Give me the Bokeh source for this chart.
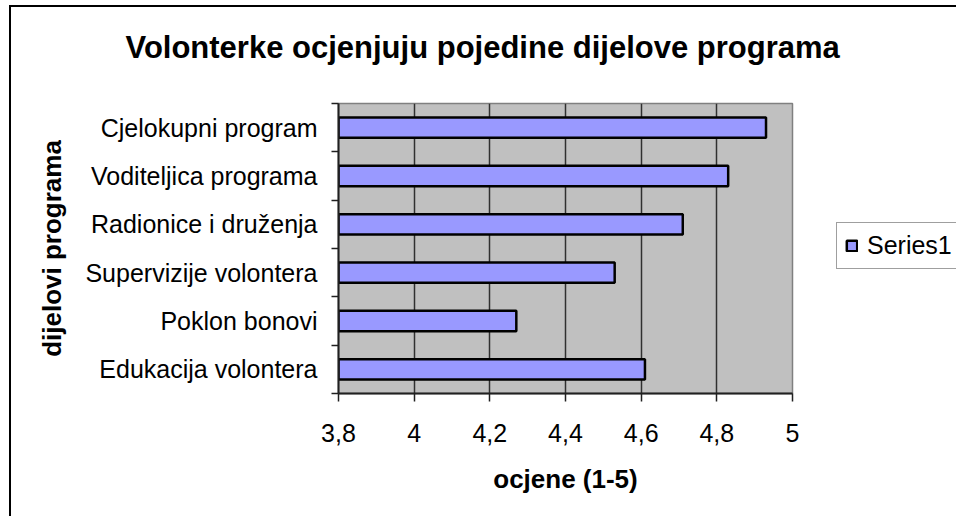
from bokeh.plotting import figure
from bokeh.models import FixedTicker, Legend, LegendItem, Range1d, Title
from bokeh.embed import file_html
from bokeh.resources import INLINE

# data (bottom to top, as Excel draws it)
categories = ["Edukacija volontera", "Poklon bonovi", "Supervizije volontera",
              "Radionice i druženja", "Voditeljica programa", "Cjelokupni program"]
values = [4.61, 4.27, 4.53, 4.71, 4.83, 4.93]
x_ticks = [3.8, 4.0, 4.2, 4.4, 4.6, 4.8, 5.0]
x_tick_labels = ["3,8", "4", "4,2", "4,4", "4,6", "4,8", "5"]
series_name = "Series1"
chart_title = "Volonterke ocjenjuju pojedine dijelove programa"

FONT = "Liberation Sans"

pos = [i + 0.5 for i in range(len(categories))]

p = figure(width=945, height=510, output_backend="svg", toolbar_location=None,
           title=None,
           x_range=Range1d(3.8, 5.0), y_range=Range1d(0, len(categories)),
           frame_width=454, frame_height=290,
           min_border_left=327, min_border_top=96, min_border_right=164, min_border_bottom=123)
# outer chart border (left and top edges are visible in the window)
p.styles = {"border-left": "2px solid black", "border-top": "2px solid black",
            "margin-left": "9px", "margin-top": "5px"}

p.background_fill_color = "#C0C0C0"
p.border_fill_color = "white"
p.outline_line_color = "#808080"
p.outline_line_width = 1.5

# spacer between the title and the plot area, then the real title
spacer = Title(text=" ", text_font_size="1px", standoff=36)
p.add_layout(spacer, "above")
main_title = Title(text=chart_title, text_font=FONT, text_font_size="31px",
                   text_font_style="bold", text_color="black",
                   align="left", offset=-213, standoff=0)
p.add_layout(main_title, "above")

r = p.hbar(y=pos, left=3.8, right=values, height=0.42, fill_color="#9999FF",
           line_color="black", line_width=2.5)

# x axis
xa = p.xaxis[0]
xa.ticker = FixedTicker(ticks=x_ticks)
xa.major_label_overrides = {t: l for t, l in zip(x_ticks, x_tick_labels)}
xa.axis_label = "ocjene (1-5)"
xa.axis_label_text_font = FONT
xa.axis_label_text_font_size = "26px"
xa.axis_label_text_font_style = "bold"
xa.axis_label_text_color = "black"
xa.axis_label_standoff = 19
xa.major_label_text_font = FONT
xa.major_label_text_font_size = "25px"
xa.major_label_text_color = "black"
xa.major_label_standoff = 22
xa.major_tick_out = 8
xa.major_tick_in = 0
xa.minor_tick_out = 0
xa.axis_line_color = "#202020"
xa.axis_line_width = 2
xa.major_tick_line_color = "#202020"
xa.major_tick_line_width = 1.5

# y axis
ya = p.yaxis[0]
ya.ticker = FixedTicker(ticks=pos, minor_ticks=list(range(len(categories) + 1)))
ya.major_label_overrides = {t: c for t, c in zip(pos, categories)}
ya.axis_label = "dijelovi programa"
ya.axis_label_text_font = FONT
ya.axis_label_text_font_size = "26px"
ya.axis_label_text_font_style = "bold"
ya.axis_label_text_color = "black"
ya.axis_label_standoff = 15
ya.major_label_text_font = FONT
ya.major_label_text_font_size = "25px"
ya.major_label_text_color = "black"
ya.major_label_standoff = 14
ya.major_tick_out = 0
ya.major_tick_in = 0
ya.minor_tick_out = 7
ya.minor_tick_in = 0
ya.minor_tick_line_color = "#202020"
ya.minor_tick_line_width = 1.5
ya.axis_line_color = "#202020"
ya.axis_line_width = 2

p.xgrid.ticker = FixedTicker(ticks=x_ticks)
p.xgrid.grid_line_color = "#303030"
p.xgrid.grid_line_width = 1.5
p.ygrid.grid_line_color = None

legend = Legend(items=[LegendItem(label=series_name, renderers=[r])],
                location=(44, 124), orientation="vertical")
legend.label_text_font = FONT
legend.label_text_font_size = "25px"
legend.label_text_color = "black"
legend.glyph_width = 13
legend.glyph_height = 13
legend.border_line_color = "#404040"
legend.border_line_width = 1.5
legend.background_fill_color = "white"
legend.padding = 8
legend.margin = 0
legend.label_standoff = 9
legend.spacing = 0
p.add_layout(legend, "right")

open("out.html", "w").write(file_html(p, INLINE))
